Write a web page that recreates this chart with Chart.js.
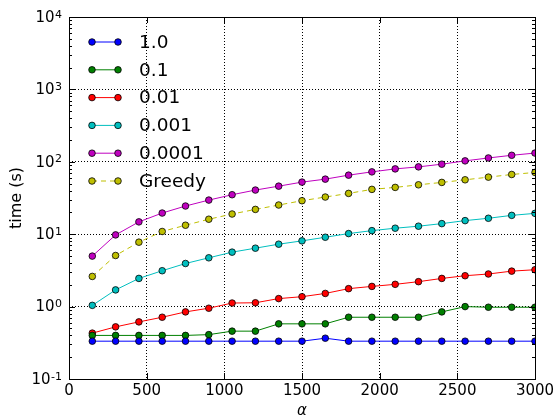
<!DOCTYPE html>
<html>
<head>
<meta charset="utf-8">
<script src="https://cdn.jsdelivr.net/npm/chart.js@4"></script>
<style>
html,body{margin:0;padding:0;background:#fff;}
#wrap{width:560px;height:419px;position:relative;}
</style>
</head>
<body>
<div id="wrap"><canvas id="c" width="560" height="419"></canvas></div>
<script>
const alphas = [150,300,450,600,750,900,1050,1200,1350,1500,1650,1800,1950,2100,2250,2400,2550,2700,2850,3000];
const s1 = [0.333,0.333,0.333,0.333,0.333,0.333,0.333,0.333,0.333,0.333,0.366,0.333,0.333,0.333,0.333,0.333,0.333,0.333,0.333,0.333];
const s01 = [0.40,0.40,0.40,0.40,0.40,0.41,0.458,0.458,0.578,0.578,0.578,0.713,0.713,0.713,0.713,0.845,1.0,0.98,0.98,0.98];
const s001 = [0.43,0.525,0.615,0.713,0.845,0.95,1.12,1.13,1.29,1.37,1.52,1.77,1.90,2.03,2.21,2.45,2.67,2.82,3.09,3.23];
const s0001 = [1.04,1.70,2.45,3.13,3.94,4.72,5.65,6.41,7.28,8.09,9.08,10.2,11.2,12.1,12.9,14.0,15.4,16.6,18.2,19.4];
const s00001 = [4.98,9.78,14.8,19.6,24.5,29.6,35.1,40.7,46.1,52.4,57.6,65.4,72.6,79.8,85.1,92.7,103,113,123,132];
const greedy = [2.61,5.08,7.76,10.9,13.3,16.1,19.0,22.0,25.3,29.0,32.6,36.6,41.6,44.3,48.1,51.9,56.4,61.4,66.8,71.3];
const seriesNames = ['1.0','0.1','0.01','0.001','0.0001','Greedy'];
const xTicks = [0,500,1000,1500,2000,2500,3000];
const yExponents = [-1,0,1,2,3,4];

const colors = ['#0000ff','#008000','#ff0000','#00bfbf','#bf00bf','#bfbf00'];
const allSeries = [s1,s01,s001,s0001,s00001,greedy];

const datasets = allSeries.map((s,i)=>({
  label: seriesNames[i],
  data: s.map((v,j)=>({x:alphas[j], y:v})),
  borderColor: colors[i],
  backgroundColor: colors[i],
  borderWidth: 1,
  borderDash: i===5 ? [5,4] : [],
  pointRadius: 3.3,
  pointBorderColor: '#000',
  pointBorderWidth: 0.8,
  pointBackgroundColor: colors[i],
  tension: 0,
  clip: 0
}));

const decor = {
  id: 'decor',
  afterDatasetsDraw(chart){
    const ctx = chart.ctx;
    const a = chart.chartArea;
    const xs = chart.scales.x, ys = chart.scales.y;
    ctx.save();
    ctx.strokeStyle = '#000';
    ctx.lineWidth = 1;
    ctx.setLineDash([]);
    // border
    ctx.strokeRect(Math.round(a.left)+0.5, Math.round(a.top)+0.5, Math.round(a.right-a.left), Math.round(a.bottom-a.top));
    ctx.beginPath();
    // y ticks (major + minor), left and right, inward
    for (let e=-1; e<4; e++){
      for (let m=1; m<=9; m++){
        const v = m*Math.pow(10,e);
        const y = Math.round(ys.getPixelForValue(v))+0.5;
        const len = m===1 ? 6 : 3;
        ctx.moveTo(a.left, y); ctx.lineTo(a.left+len, y);
        ctx.moveTo(a.right, y); ctx.lineTo(a.right-len, y);
      }
    }
    // x ticks top & bottom
    xTicks.forEach(v=>{
      const x = Math.round(xs.getPixelForValue(v))+0.5;
      ctx.moveTo(x, a.bottom); ctx.lineTo(x, a.bottom-6);
      ctx.moveTo(x, a.top); ctx.lineTo(x, a.top+6);
    });
    ctx.stroke();

    // y tick labels: 10 with superscript
    ctx.fillStyle = '#000';
    yExponents.forEach(e=>{
      const y = ys.getPixelForValue(Math.pow(10,e));
      const expStr = e<0 ? '-'+(-e) : String(e);
      ctx.font = '11px "DejaVu Sans"';
      ctx.textAlign = 'right';
      ctx.textBaseline = 'alphabetic';
      const ew = ctx.measureText(expStr).width;
      ctx.fillText(expStr, 62, y+0.5);
      ctx.font = '15px "DejaVu Sans"';
      ctx.textBaseline = 'middle';
      ctx.fillText('10', 62-ew-0.5, y+1);
    });

    // legend
    const lx1 = 92, lx2 = 118, tx = 139;
    const y0 = 42, dy = 27.8;
    seriesNames.forEach((n,i)=>{
      const y = y0 + i*dy;
      ctx.beginPath();
      ctx.strokeStyle = colors[i];
      ctx.lineWidth = 1;
      ctx.setLineDash(i===5 ? [5,4] : []);
      ctx.moveTo(lx1, y); ctx.lineTo(lx2, y);
      ctx.stroke();
      ctx.setLineDash([]);
      [lx1,lx2].forEach(px=>{
        ctx.beginPath();
        ctx.arc(px, y, 3.3, 0, Math.PI*2);
        ctx.fillStyle = colors[i];
        ctx.fill();
        ctx.strokeStyle = '#000';
        ctx.lineWidth = 0.8;
        ctx.stroke();
      });
      ctx.fillStyle = '#000';
      ctx.font = '18.5px "DejaVu Sans"';
      ctx.textAlign = 'left';
      ctx.textBaseline = 'middle';
      ctx.fillText(n, tx, y+1);
    });
    ctx.restore();
  }
};

new Chart(document.getElementById('c'), {
  type: 'line',
  data: { datasets },
  plugins: [decor],
  options: {
    responsive: false,
    animation: false,
    devicePixelRatio: 1,
    layout: { padding: { top: 17, right: 25, left: 0, bottom: 0 } },
    plugins: { legend: { display: false }, tooltip: { enabled: false } },
    scales: {
      x: {
        type: 'linear', min: 0, max: 3000,
        afterBuildTicks(scale){ scale.ticks = xTicks.map(v=>({value:v})); },
        afterFit(scale){ scale.height = 40; },
        border: { display: false, dash: [1,2] },
        grid: { color: '#000', lineWidth: 1, drawTicks: false },
        ticks: { color: '#000', font: { family: 'DejaVu Sans', size: 15 }, padding: 3, maxRotation: 0, callback: (v)=>String(v) },
        title: { display: true, text: 'α', color: '#000', font: { family: 'DejaVu Sans', size: 15, style: 'italic', lineHeight: 1 }, padding: { top: 0, bottom: 0 } }
      },
      y: {
        type: 'logarithmic', min: 0.1, max: 10000,
        afterBuildTicks(scale){ scale.ticks = yExponents.map(e=>({value:Math.pow(10,e)})); },
        afterFit(scale){ scale.width = 69; },
        border: { display: false, dash: [1,2] },
        grid: { color: '#000', lineWidth: 1, drawTicks: false },
        ticks: { display: false },
        title: { display: true, text: 'time (s)', color: '#000', font: { family: 'DejaVu Sans', size: 16, lineHeight: 1 }, padding: { top: 9, bottom: 0 } }
      }
    }
  }
});
</script>
</body>
</html>
